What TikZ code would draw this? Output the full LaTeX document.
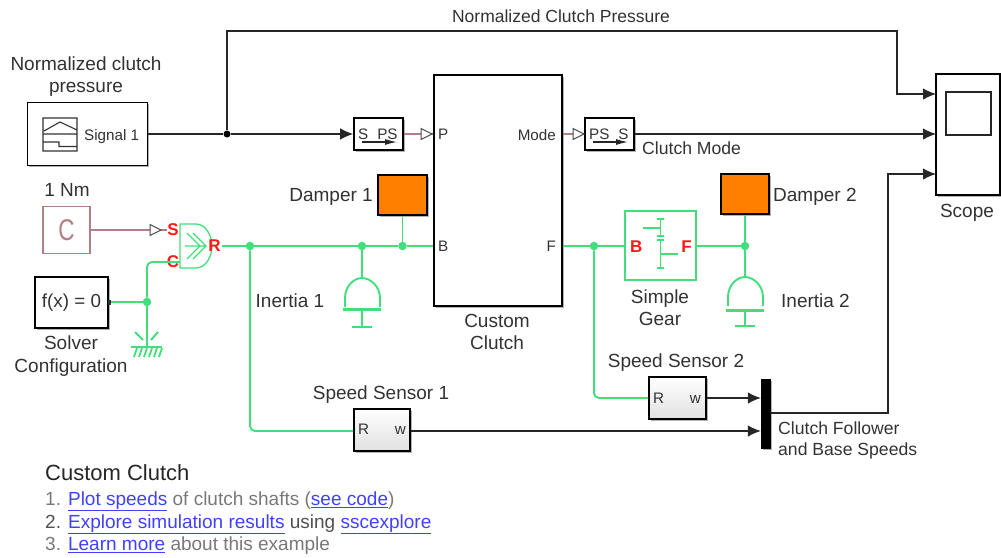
\documentclass[tikz,border=0pt]{standalone}
\usepackage{fontspec}
\setmainfont{Liberation Sans}
\usetikzlibrary{arrows.meta,shadows,positioning}
\definecolor{simgreen}{RGB}{66,222,124}
\definecolor{maroonl}{RGB}{176,128,132}
\definecolor{orangeb}{RGB}{255,128,0}
\definecolor{txt}{RGB}{50,50,50}
\definecolor{lnkc}{RGB}{64,64,255}
\definecolor{grayt}{RGB}{120,120,120}
\definecolor{grayd}{RGB}{80,80,80}
\newcommand\lnk[1]{\textcolor{lnkc}{\underline{#1}}}
\tikzset{
 block/.style={draw=black,line width=1.6pt,fill=white,inner sep=0pt,
   drop shadow={shadow xshift=1.6pt,shadow yshift=-1.6pt,opacity=.3,fill=black}},
 sensor/.style={block,top color=white,bottom color=black!12},
 orangebox/.style={block,fill=orangeb},
 lbl/.style={text=txt,font=\fontsize{19}{20}\selectfont,inner sep=0pt,text height=.72em,text depth=.2em,yshift=-3.7pt},
 prt/.style={text=txt,font=\fontsize{15.2}{18}\selectfont,inner sep=0pt,text height=.72em,text depth=.05em,yshift=-2pt},
 redp/.style={text=red!90!white,font=\bfseries\fontsize{17}{18}\selectfont,inner sep=0pt},
 sig/.style={draw=black!85,line width=1.2pt},
 sigarrow/.style={sig,-{Latex[length=13pt,width=11.5pt]}},
 phys/.style={draw=simgreen,line width=1.9pt},
 thin green/.style={draw=simgreen,line width=1.3pt},
 psline/.style={draw=maroonl,line width=1.6pt},
 openarrow/.style={draw=black!70,fill=white,line width=1pt},
 dotk/.style={circle,fill=black,inner sep=0pt,minimum size=7pt},
 dotg/.style={circle,fill=simgreen,inner sep=0pt,minimum size=8.5pt},
}
\begin{document}
\begin{tikzpicture}[x=1pt,y=-1pt]
\useasboundingbox (0,0) rectangle (1001,557);
% source block
\node[block,minimum width=120pt,minimum height=63pt] (signal) at (87.5,134) {};
\node[prt,anchor=west] (signaltext) at (84,135) {Signal 1};
\draw[line width=1.1pt,draw=black!80] (43,118) rectangle (77,151) (43,134) -- (77,134)
  (44,131) -- (60,122) -- (77,130) (43,142) -- (59,142) -- (59,146.5) -- (77,146.5);
\node[lbl] (l1) at (86,64) {Normalized clutch};
\node[lbl] (l2) at (86,86) {pressure};
% converters
\node[block,minimum width=49pt,minimum height=32pt] (sps) at (378.5,134) {};
\node[prt,anchor=west] (spst) at (358,134) {S\hspace{9pt}PS};
\node[block,minimum width=49pt,minimum height=32pt] (pss) at (609.5,134) {};
\node[prt,anchor=west] (psst) at (589,134) {PS\hspace{9pt}S};
\draw[sig,-{Latex[length=12pt,width=6pt]}] (362,142) -- (397,142);
\draw[sig,-{Latex[length=12pt,width=6pt]}] (593,142) -- (628,142);
% clutch
\node[block,minimum width=128pt,minimum height=231pt] (clutch) at (498,190.5) {};
\node[prt,anchor=west] (pP) at (438,134) {P};
\node[prt,anchor=west] (pB) at (438,246) {B};
\node[prt,anchor=east] (pM) at (556,135) {Mode};
\node[prt,anchor=east] (pF) at (556,246) {F};
\node[lbl] (c1) at (497,321) {Custom};
\node[lbl] (c2) at (497,343) {Clutch};
% scope
\node[block,minimum width=64pt,minimum height=121pt] (scope) at (968,134.5) {};
\draw[line width=1.2pt,draw=black!85] (946,92) rectangle (991,135);
\node[lbl] (sc) at (967,211) {Scope};
\coordinate (sc1) at (936,94);
\coordinate (sc2) at (936,134);
\coordinate (sc3) at (936,174);
% dampers
\node[orangebox,minimum width=49pt,minimum height=40pt] (d1) at (402.5,195) {};
\node[orangebox,minimum width=48pt,minimum height=40pt] (d2) at (745,194) {};
\node[lbl,anchor=east] (d1l) at (373,195) {Damper 1};
\node[lbl,anchor=west] (d2l) at (773,195) {Damper 2};
% constant
\node[draw=maroonl,line width=1.1pt,minimum width=47pt,minimum height=47pt,inner sep=0pt,
  text=maroonl,font=\fontsize{30}{30}\selectfont] (cst) at (66.5,230) {\scalebox{.75}[1]{C}};
\node[lbl] (cl) at (67,190) {1 Nm};
% solver
\node[block,minimum width=73pt,minimum height=51pt,font=\fontsize{18.8}{20}\selectfont,text=txt] (solver) at (71.5,302.5) {f(x) = 0};
\node[lbl] (s1) at (71,343) {Solver};
\node[lbl] (s2) at (71,366) {Configuration};
\fill[black!80] (108,300) rectangle (111,305);
% mux
\node[draw=black,fill=black,minimum width=9pt,minimum height=69pt,inner sep=0pt,
   drop shadow={shadow xshift=1.6pt,shadow yshift=-1.6pt,opacity=.3,fill=black}] (mux) at (765.5,413.5) {};
\node[lbl,anchor=west] (m1) at (778,428) {\fontsize{17.6}{18}\selectfont Clutch Follower};
\node[lbl,anchor=west] (m2) at (778,449) {\fontsize{17.6}{18}\selectfont and Base Speeds};
% sensors
\node[sensor,minimum width=56pt,minimum height=42pt] (ss1) at (382,430) {};
\node[sensor,minimum width=57pt,minimum height=42pt] (ss2) at (677.5,398) {};
\node[prt,anchor=west] (r1) at (358,429) {R};
\node[prt,anchor=east] (w1) at (406,429) {w};
\node[prt,anchor=west] (r2) at (653,398) {R};
\node[prt,anchor=east] (w2) at (701,398) {w};
\node[lbl] (ss1l) at (381,393) {Speed Sensor 1};
\node[lbl] (ss2l) at (676,361) {Speed Sensor 2};
% gear
\node[draw=simgreen,line width=1.1pt,minimum width=71pt,minimum height=69pt,inner sep=0pt] (gear) at (660.5,245.5) {};
\node[redp,anchor=west] (gB) at (630,247) {B};
\node[redp,anchor=east] (gF) at (692,247) {F};
\draw[thin green] (657,219) -- (664,219) (660.5,219) -- (660.5,236) (643,228) -- (660.5,228) (657,236) -- (664,236)
   (657,240) -- (664,240) (660.5,240) -- (660.5,268) (657,268) -- (664,268) (660.5,254) -- (678,254);
\node[lbl] (g1) at (660,297) {Simple};
\node[lbl] (g2) at (660,319) {Gear};
% coupling icon
\coordinate (cs) at (180,230);
\coordinate (cc) at (180,262);
\coordinate (cr) at (222,246);
\draw[thin green] (180,224) -- (196,224) .. controls (206,224) and (212,236) .. (212,246) .. controls (212,256) and (206,268) .. (196,268) -- (180,268) -- cycle;
\draw[thin green] (185,246) -- (206,246) (193,233) -- (206,246) -- (193,259) (187,233) -- (200,246) -- (187,259);
\node[redp] (lS) at (173,230) {S};
\node[redp] (lC) at (173,262) {C};
\node[redp] (lR) at (214.5,246) {R};
% inertias
\coordinate (in1) at (362,278);
\coordinate (in2) at (745,277);
\draw[phys] (345,307) -- (345,298) .. controls (345,286) and (354,278) .. (in1) .. controls (370,278) and (380,286) .. (380,298) -- (380,307);
\draw[draw=simgreen,line width=3pt] (343,309) -- (381,309);
\draw[phys] (362,309) -- (362,327) (352,327) -- (372,327);
\draw[phys] (728,306) -- (728,297) .. controls (728,285) and (737,277) .. (in2) .. controls (753,277) and (763,285) .. (763,297) -- (763,306);
\draw[draw=simgreen,line width=3pt] (726,310) -- (764,310);
\draw[phys] (745,310) -- (745,326) (735,326) -- (755,326);
\node[lbl] (i1l) at (290,301) {Inertia 1};
\node[lbl] (i2l) at (815.5,301) {Inertia 2};
% ground
\coordinate (gnd) at (147,347);
\draw[phys] (131,347) -- (162,347);
\draw[draw=simgreen,line width=1.8pt] (134,357) -- (137,348) (139,357) -- (142,348) (144,357) -- (147,348) (149,357) -- (152,348) (154,357) -- (157,348) (159,357) -- (162,348);
\draw[draw=simgreen,line width=2pt] (135,332) -- (143,340) (158,332) -- (151,340);
% signal connectors
\node[dotk] (jk) at (227,134) {};
\draw[sig] (signal.east) -- (jk);
\draw[sigarrow] (jk) -- (sps.west);
\draw[sigarrow] (jk) |- (227,31) -| (897,94) -- (sc1);
\draw[sigarrow] (pss.east) -- (sc2);
\draw[sigarrow] (mux.east |- 0,413) -| (888,174) -- (sc3);
\draw[sigarrow] (ss2.east) -- (mux.west |- ss2.east);
\draw[sigarrow] (w1.east -| ss1.east) -- (mux.west |- w1.east);
% physical signal lines
\draw[psline] (sps.east) -- (clutch.west |- sps.east);
\draw[openarrow] (421,128.5) -- (432,134) -- (421,139.5) -- cycle;
\draw[psline] (clutch.east |- pss.west) -- (pss.west);
\draw[openarrow] (573,128.5) -- (584,134) -- (573,139.5) -- cycle;
\draw[psline] (cst.east) -- (lS.west);
\draw[openarrow] (150,224.5) -- (161,230) -- (150,235.5) -- cycle;
% conserving lines
\node[dotg] (j1) at (250,246) {};
\node[dotg] (j2) at (362,246) {};
\node[dotg] (j3) at (402.5,246) {};
\node[dotg] (j4) at (594,246) {};
\node[dotg] (j5) at (745,246) {};
\node[dotg] (j6) at (147,302) {};
\draw[phys] (cr) -- (j1) -- (j2) -- (j3) -- (clutch.west |- j3);
\draw[phys] (j3) -- (d1.south);
\draw[phys] (j2) -- (in1);
\draw[phys,rounded corners=5pt] (j1) |- (ss1.west |- w1.east);
\draw[phys] (clutch.east |- j4) -- (j4) -- (gear.west |- j4);
\draw[phys,rounded corners=5pt] (j4) |- (ss2.west);
\draw[phys] (gear.east |- j5) -- (j5);
\draw[phys] (j5) -- (d2.south);
\draw[phys] (j5) -- (in2);
\draw[phys] (111,302) -- (j6);
\draw[phys,rounded corners=5pt] (cc) -| (j6);
\draw[phys] (j6) -- (gnd);
% free labels
\node[lbl] (topl) at (561,16) {\fontsize{17.5}{18}\selectfont Normalized Clutch Pressure};
\node[lbl,anchor=west] (model) at (642,148) {\fontsize{17.6}{18}\selectfont Clutch Mode};
% annotation
\node[anchor=west,inner sep=0pt,text=black!85,font=\fontsize{22}{24}\selectfont] (title) at (45,473) {Custom Clutch};
\node[lbl,anchor=west,text=grayt] (n1) at (45,499) {1. \lnk{Plot speeds} of clutch shafts (\lnk{see code})};
\node[lbl,anchor=west,text=grayd] (n2) at (45,522) {2. \lnk{Explore simulation results} using \lnk{sscexplore}};
\node[lbl,anchor=west,text=grayt] (n3) at (45,544) {3. \lnk{Learn more} about this example};
\end{tikzpicture}
\end{document}
